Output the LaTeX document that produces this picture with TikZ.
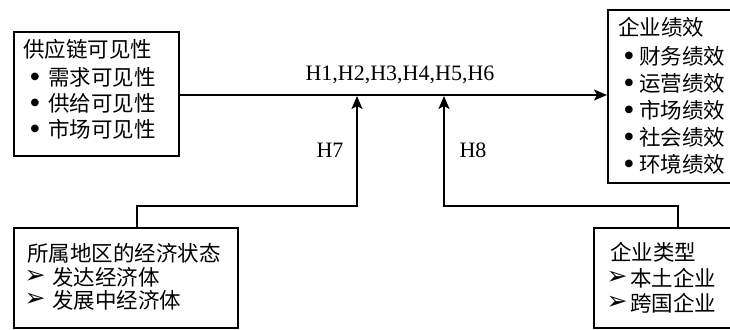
\documentclass[tikz,border=0pt]{standalone}
\usepackage{fontspec}
\setmainfont{Liberation Serif}
\newfontfamily\cjk{Noto Sans CJK SC}
\newfontfamily\symf{DejaVu Sans}
\usetikzlibrary{arrows.meta}
\begin{document}
\begin{tikzpicture}[x=1pt,y=-1pt,
  box/.style={draw,line width=1.6pt,anchor=north west,inner sep=0pt},
  txt/.style={anchor=west,inner sep=0pt,font=\cjk\fontsize{21.5}{24}\selectfont,text height=17.5pt,text depth=1.5pt},
  lat/.style={inner sep=0pt,font=\fontsize{22}{24}\selectfont},
  bul/.style={inner sep=0pt,font=\symf\fontsize{10}{12}\selectfont},
  arr/.style={font=\symf\fontsize{25}{28}\selectfont,inner sep=0pt},
  conn/.style={line width=1.6pt},
  arrow/.style={conn,-{Stealth[length=13pt,width=11pt,inset=3pt]}}]
\useasboundingbox (0,0) rectangle (730,329);
\clip (0,0) rectangle (730,329);
% boxes
\node[box,minimum width=165pt,minimum height=124pt] (A) at (13,31) {};
\node[box,minimum width=160pt,minimum height=173pt] (B) at (607,9) {};
\node[box,minimum width=224pt,minimum height=100pt] (C) at (13,227) {};
\node[box,minimum width=170pt,minimum height=100pt] (D) at (593,227) {};
% box A text
\node[txt] (a0) at (23,50) {供应链可见性};
\node[bul] (ab1) at (35,77) {●};
\node[txt] (a1) at (48,77) {需求可见性};
\node[bul] (ab2) at (35,103) {●};
\node[txt] (a2) at (48,103) {供给可见性};
\node[bul] (ab3) at (35,129) {●};
\node[txt] (a3) at (48,129) {市场可见性};
% box B text
\node[txt] (b0) at (618,28) {企业绩效};
\node[bul] (bb1) at (629,56) {●};
\node[txt] (b1) at (639,56) {财务绩效};
\node[bul] (bb2) at (629,83) {●};
\node[txt] (b2) at (639,83) {运营绩效};
\node[bul] (bb3) at (629,110) {●};
\node[txt] (b3) at (639,110) {市场绩效};
\node[bul] (bb4) at (629,137) {●};
\node[txt] (b4) at (639,137) {社会绩效};
\node[bul] (bb5) at (629,164) {●};
\node[txt] (b5) at (639,164) {环境绩效};
% box C text
\node[txt] (c0) at (27,253) {所属地区的经济状态};
\node[arr] (cb1) at (35,277) {➢};
\node[txt] (c1) at (52,277) {发达经济体};
\node[arr] (cb2) at (35,300) {➢};
\node[txt] (c2) at (52,300) {发展中经济体};
% box D text
\node[txt] (d0) at (610,252) {企业类型};
\node[arr] (db1) at (617,278) {➢};
\node[txt] (d1) at (630,278) {本土企业};
\node[arr] (db2) at (617,303) {➢};
\node[txt] (d2) at (630,303) {跨国企业};
% labels
\node[lat] (h16) at (400,75) {H1,H2,H3,H4,H5,H6};
\node[lat] (h7) at (330,150) {H7};
\node[lat] (h8) at (473,150) {H8};
% junctions
\coordinate (pA) at (178,95);
\coordinate (pB) at (607,95);
\coordinate (j1) at (357,96);
\coordinate (j2) at (444,96);
\coordinate (cC) at (137,227);
\coordinate (cD) at (678,227);
% connectors
\draw[arrow] (A.east |- pA) -- (B.west |- pB);
\draw[arrow] (C.north -| cC) -- (cC |- 0,206) -- (j1 |- 0,206) -- (j1);
\draw[arrow] (D.north -| cD) -- (cD |- 0,206) -- (j2 |- 0,206) -- (j2);
\end{tikzpicture}
\end{document}
